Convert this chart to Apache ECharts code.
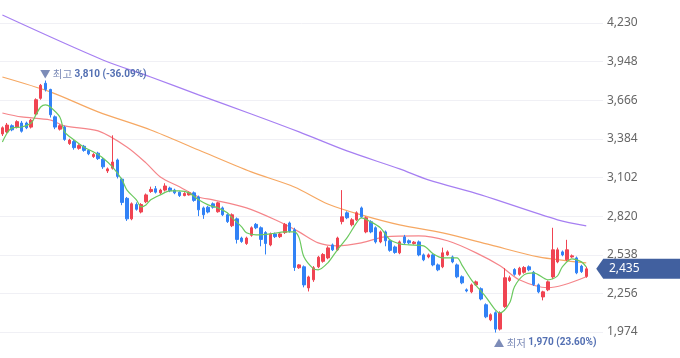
<!DOCTYPE html>
<html><head><meta charset="utf-8">
<script src="https://cdn.jsdelivr.net/npm/echarts@6/dist/echarts.min.js"></script>
<style>html,body{margin:0;padding:0;background:#fff}#c{width:680px;height:358px}</style>
</head><body><div id="c"></div>
<script>
// ---- data ----
const opens = [3420,3435,3480,3470,3500,3500,3470,3565,3680,3790,3745,3545,3455,3470,3350,3365,3315,3330,3300,3255,3280,3235,3150,3170,3230,3090,2950,2800,2905,2850,2925,3000,3020,2990,3010,3025,3010,2995,2970,2975,2990,2960,2880,2885,2910,2852,2880,2830,2750,2800,2660,2620,2680,2760,2735,2700,2610,2690,2670,2700,2770,2720,2443,2450,2296,2355,2450,2490,2515,2610,2574,2780,2844,2757,2793,2880,2705,2779,2735,2632,2705,2640,2595,2552,2668,2640,2620,2632,2537,2522,2537,2464,2450,2537,2522,2464,2377,2282,2267,2318,2290,2173,2063,2115,1995,2160,2350,2430,2395,2410,2450,2410,2318,2230,2282,2376,2486,2559,2501,2522,2515,2455,2380];
const closes = [3465,3485,3450,3510,3440,3465,3520,3670,3775,3745,3560,3470,3480,3380,3375,3320,3335,3300,3275,3270,3240,3180,3165,3215,3110,2920,2800,2910,2870,2905,2975,3015,2995,3010,3040,3005,2990,2970,2985,2990,2935,2866,2830,2850,2885,2917,2830,2780,2830,2650,2635,2660,2735,2735,2650,2620,2690,2670,2690,2760,2710,2445,2464,2318,2376,2443,2520,2540,2588,2574,2660,2815,2808,2793,2844,2815,2808,2705,2632,2705,2640,2570,2555,2632,2625,2625,2630,2537,2501,2537,2464,2428,2552,2559,2486,2377,2333,2274,2318,2340,2215,2085,2100,1995,2115,2370,2370,2395,2440,2445,2428,2320,2267,2267,2340,2574,2574,2537,2574,2530,2406,2415,2435];
const lows = [3405,3425,3440,3460,3430,3455,3460,3550,3670,3730,3540,3455,3445,3370,3340,3305,3305,3290,3265,3245,3230,3165,3135,3160,3095,2900,2785,2790,2860,2840,2915,2990,2985,2980,3000,2995,2980,2960,2965,2970,2925,2820,2800,2840,2875,2845,2820,2770,2740,2620,2625,2610,2670,2725,2600,2540,2600,2660,2660,2690,2700,2420,2435,2300,2270,2340,2440,2480,2505,2565,2565,2760,2798,2745,2785,2805,2695,2695,2620,2622,2600,2560,2545,2542,2615,2615,2612,2527,2491,2512,2454,2418,2440,2530,2476,2367,2323,2264,2257,2310,2205,2075,2053,1970,1985,2150,2340,2385,2385,2400,2418,2310,2257,2205,2272,2360,2476,2527,2491,2515,2396,2405,2370];
const highs = [3475,3500,3490,3520,3515,3510,3530,3680,3785,3810,3750,3555,3490,3480,3385,3380,3345,3340,3310,3280,3290,3245,3175,3410,3240,3100,2960,2920,2920,2915,2985,3035,3040,3020,3060,3035,3020,3000,2995,3000,3000,2970,2890,2895,2920,2925,2890,2840,2840,2810,2670,2670,2745,2770,2745,2710,2700,2700,2700,2770,2780,2735,2470,2460,2385,2455,2530,2550,2600,2620,2670,3010,2855,2805,2855,2890,2818,2790,2745,2715,2715,2650,2605,2642,2683,2650,2638,2642,2547,2547,2547,2474,2590,2570,2532,2474,2387,2292,2328,2350,2300,2183,2110,2125,2125,2440,2385,2440,2450,2455,2460,2420,2328,2275,2350,2735,2590,2569,2647,2540,2525,2465,2450];
// moving-average lines: [candle index, value] pairs
const ma5 = [[0,3362],[1,3427],[2,3464],[4,3471],[6,3500],[7,3559],[8,3617],[9,3632],[10,3617],[12,3544],[13,3435],[15,3376],[17,3325],[19,3289],[21,3245],[23,3179],[25,3085],[26,3012],[28,2939],[29,2888],[30,2902],[31,2939],[33,2975],[35,3004],[37,3004],[39,2990],[41,2939],[43,2902],[45,2880],[47,2844],[48,2807],[50,2742],[51,2698],[53,2683],[56,2690],[59,2705],[61,2705],[62,2661],[63,2523],[65,2435],[66,2428],[68,2479],[70,2574],[72,2661],[74,2771],[75,2807],[77,2778],[79,2734],[81,2647],[83,2618],[85,2610],[88,2603],[90,2545],[92,2515],[95,2515],[96,2464],[98,2355],[101,2231],[103,2136],[104,2114],[106,2187],[107,2304],[109,2391],[111,2406],[114,2355],[116,2384],[117,2450],[119,2508],[121,2486],[122,2450]];
const ma20 = [[0,3573],[4,3544],[10,3522],[13,3479],[20,3442],[26,3325],[30,3209],[33,3106],[37,3034],[41,2960],[44,2939],[51,2880],[57,2793],[62,2705],[66,2625],[70,2603],[75,2625],[80,2669],[87,2676],[93,2640],[99,2552],[104,2457],[108,2355],[114,2297],[122,2377]];
const ma60 = [[0,3836],[10,3727],[20,3581],[31,3449],[41,3303],[52,3143],[61,3033],[68,2909],[75,2829],[83,2756],[92,2698],[102,2610],[112,2523],[122,2479]];
const ma120 = [[0,4288],[21,3960],[31,3836],[41,3705],[52,3566],[62,3435],[72,3296],[83,3165],[89,3085],[100,2975],[116,2793],[122,2749]];
const yTickLabels = [1974,2256,2538,2820,3102,3384,3666,3948,4230];
const emptySlots = ['E1','E2','E3'];

// ---- build ----
const categories = opens.map((_, i) => 'D' + (i + 1)).concat(emptySlots);
const candleData = opens.map((o, i) => [o, closes[i], lows[i], highs[i]]);
const fmt = v => Math.round(v).toString().replace(/\B(?=(\d{3})+(?!\d))/g, ',');
const step = yTickLabels[1] - yTickLabels[0];
const yMin = yTickLabels[0];
const yMax = yTickLabels[yTickLabels.length - 1] + step / 2;

const hiVal = Math.max(...highs), hiIdx = highs.indexOf(hiVal);
const loVal = Math.min(...lows), loIdx = lows.indexOf(loVal);
const lastIdx = closes.length - 1, lastClose = closes[lastIdx];
const pct = v => ((lastClose - v) / v * 100).toFixed(2) + '%';

const richStyle = {
  a: {color: '#7d8cb8', fontSize: 10.5, fontFamily: '"Noto Sans CJK KR"'},
  b: {color: '#5470b3', fontSize: 10, fontWeight: 'bold', fontFamily: 'Roboto'}
};

const chart = echarts.init(document.getElementById('c'), null, {renderer: 'canvas'});
const maLine = (name, data, color, z) => ({
  type: 'line', name, data, smooth: 0.3, symbol: 'none', z,
  lineStyle: {color, width: 1.2}, connectNulls: true
});
chart.setOption({
  animation: false,
  backgroundColor: '#ffffff',
  grid: {left: 0, right: 77, top: 3.7, bottom: 26},
  xAxis: {type: 'category', data: categories, boundaryGap: true, show: false},
  yAxis: {
    type: 'value', position: 'right', min: yMin, max: yMax, interval: step,
    axisLine: {show: false}, axisTick: {show: false},
    axisLabel: {margin: 4, color: '#666', fontSize: 12, fontFamily: '"Noto Sans"', showMaxLabel: false, formatter: fmt},
    splitLine: {show: true, showMaxLine: false, lineStyle: {color: '#f0f0f5', width: 1}}
  },
  series: [
    maLine('MA120', ma120, '#a67ff2', 2),
    maLine('MA60', ma60, '#f6a863', 2),
    maLine('MA20', ma20, '#f5858a', 2),
    {
      type: 'candlestick', name: 'price', data: candleData, barWidth: 3, z: 3, clip: false,
      itemStyle: {color: '#f04452', color0: '#3182f6', borderColor: '#f04452', borderColor0: '#3182f6', borderWidth: 1},
      markPoint: {
        symbol: 'circle', symbolSize: 1,
        itemStyle: {color: 'rgba(0,0,0,0)'},
        data: [
          {coord: [hiIdx, hiVal], label: {show: true, position: [-5, -11],
            formatter: '{a|▼ 최고 }{b|' + fmt(hiVal) + ' (' + pct(hiVal) + ')}', rich: richStyle}},
          {coord: [loIdx, Math.max(loVal, yMin)], label: {show: true, position: [-1, 6],
            formatter: '{a|▲ 최저 }{b|' + fmt(loVal) + ' (' + pct(loVal) + ')}', rich: richStyle}},
          {coord: [lastIdx, lastClose], symbol: 'path://M0,10 L7,0 L84,0 L84,20 L7,20 Z',
            symbolSize: [84, 20], symbolKeepAspect: false, symbolOffset: [52, 0],
            itemStyle: {color: '#41609f'},
            label: {show: true, position: 'inside', formatter: fmt(lastClose), color: '#fff',
              fontSize: 12, fontFamily: '"Noto Sans"', offset: [-14, 0]}}
        ]
      }
    },
    maLine('MA5', ma5, '#6bc95f', 4)
  ]
});
</script></body></html>
